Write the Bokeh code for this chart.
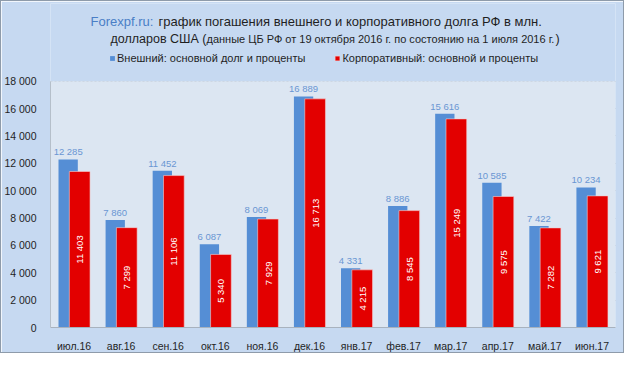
import math
from bokeh.plotting import figure
from bokeh.models import (ColumnDataSource, FixedTicker, Label, Legend, LegendItem, BoxAnnotation)
from bokeh.transform import dodge
from bokeh.core.properties import value
from bokeh.embed import file_html
from bokeh.resources import INLINE

# ---- data ----
months = ["июл.16", "авг.16", "сен.16", "окт.16", "ноя.16", "дек.16",
          "янв.17", "фев.17", "мар.17", "апр.17", "май.17", "июн.17"]
external = [12285, 7860, 11452, 6087, 8069, 16889, 4331, 8886, 15616, 10585, 7422, 10234]
corporate = [11403, 7299, 11106, 5340, 7929, 16713, 4215, 8545, 15249, 9575, 7282, 9621]
y_ticks = [0, 2000, 4000, 6000, 8000, 10000, 12000, 14000, 16000, 18000]
y_tick_labels = ["0", "2 000", "4 000", "6 000", "8 000", "10 000", "12 000", "14 000", "16 000", "18 000"]
series_names = ["Внешний: основной долг и проценты", "Корпоративный: основной и проценты"]
y_axis_max = 18000

def fmt(v):
    return "{:,}".format(v).replace(",", " ")

src = ColumnDataSource(dict(
    month=months,
    ext=external,
    corp=corporate,
    corp_half=[v / 2 for v in corporate],
    ext_lbl=[fmt(v) for v in external],
    corp_lbl=[fmt(v) for v in corporate],
))

FONT = "Liberation Sans"
PANEL = "#C6D9F1"
PLOTBG = "#DCE6F2"
BLUE = "#558ED5"
RED = "#E30000"
BLUE_TXT = "#6A96D2"
TXT = "#1F1F1F"

# layout (pixels): plot area spans 247 px for 0..18000; frame extends up to the title area
W, H = 624, 353
TOP, BOTTOM, LEFT, RIGHT = 2, 26, 45, 10
PLOT_H = 247
frame_h = H - TOP - BOTTOM
y_end = y_axis_max * frame_h / PLOT_H

p = figure(x_range=months, y_range=(0, y_end), width=W, height=H,
           output_backend="svg", toolbar_location=None,
           min_border_left=LEFT, min_border_right=RIGHT, min_border_top=TOP, min_border_bottom=BOTTOM)
p.background_fill_color = PANEL
p.border_fill_color = PANEL
p.outline_line_color = None
p.styles = {"border": "1px solid #8E9BAA", "box-sizing": "border-box"}

p.add_layout(BoxAnnotation(bottom=0, top=y_axis_max, fill_color=PLOTBG, fill_alpha=1,
                           line_color=None, level="underlay"))

rb = p.vbar(x=dodge("month", -0.125, range=p.x_range), top="ext", width=0.41, source=src,
            fill_color=BLUE, line_color=None)
rr = p.vbar(x=dodge("month", 0.12, range=p.x_range), top="corp", width=0.44, source=src,
            fill_color=RED, line_color="#F4D0D0", line_width=0.6)

p.text(x=dodge("month", -0.125, range=p.x_range), y="ext", text="ext_lbl", source=src,
       text_align="center", text_baseline="bottom", y_offset=-2,
       text_color=BLUE_TXT, text_font=value(FONT), text_font_size="9.5px")
p.text(x=dodge("month", 0.12, range=p.x_range), y="corp_half", text="corp_lbl", source=src,
       angle=math.pi / 2, text_align="center", text_baseline="middle",
       text_color="white", text_font=value(FONT), text_font_size="9.5px")

# axes
p.yaxis.ticker = FixedTicker(ticks=y_ticks)
p.yaxis.bounds = (0, y_axis_max)
p.yaxis.major_label_overrides = {t: l for t, l in zip(y_ticks, y_tick_labels)}
p.yaxis.major_tick_line_color = None
p.yaxis.minor_tick_line_color = None
p.yaxis.axis_line_color = "#B5BFCA"
p.yaxis.major_label_standoff = 8
p.yaxis.major_label_text_font = FONT
p.yaxis.major_label_text_font_size = "10.5px"
p.yaxis.major_label_text_color = TXT

p.xaxis.major_tick_line_color = None
p.xaxis.axis_line_color = "#A8B2BE"
p.xaxis.major_label_standoff = 6
p.xaxis.major_label_text_font = FONT
p.xaxis.major_label_text_font_size = "10.5px"
p.xaxis.major_label_text_color = TXT

p.xgrid.grid_line_color = None
p.ygrid.grid_line_color = "#A3ACB7"
p.ygrid.grid_line_dash = "2 2"
p.ygrid.grid_line_width = 1

# legend (frame-relative screen coords: x from frame left, y up from frame bottom)
fb = H - BOTTOM  # frame bottom in figure pixels
legend = Legend(items=[LegendItem(label=series_names[0], renderers=[rb]),
                       LegendItem(label=series_names[1], renderers=[rr])],
                location=(104 - LEFT, fb - 65), orientation="horizontal",
                glyph_width=6, glyph_height=6, label_standoff=2, spacing=29,
                label_height=14, padding=0, margin=0,
                background_fill_alpha=0, border_line_color=None,
                label_text_font=FONT, label_text_font_size="11px", label_text_color=TXT)
p.add_layout(legend, "center")

def add_text(x, y, text, size, color=TXT):
    p.add_layout(Label(x=x - LEFT, y=fb - y, x_units="screen", y_units="screen",
                       text=text, text_font=FONT, text_font_size=size,
                       text_color=color, text_baseline="alphabetic"))

add_text(85, 21, "Forexpf.ru:", "13px", "#4A7EC6")
add_text(153, 21, "график погашения внешнего и корпоративного долга РФ в млн.", "13px")
add_text(105, 38, "долларов США (", "12.5px")
add_text(201, 38, "данные ЦБ РФ от 19 октября 2016 г. по состоянию на 1  июля 2016 г.", "11px")
add_text(550, 38, ")", "12.5px")

open("out.html", "w").write(file_html(p, INLINE))
